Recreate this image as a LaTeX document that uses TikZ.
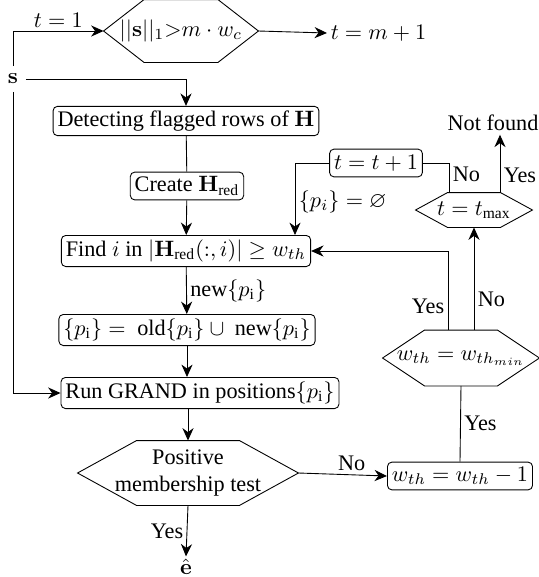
\documentclass[tikz,border=0pt]{standalone}
\usepackage{amsmath,amssymb}
\usepackage[no-math]{fontspec}
\setmainfont{Liberation Serif}
\usetikzlibrary{arrows.meta,calc}

% hexagon round a named node: node name, chamfer
\newcommand{\hexpath}[2]{%
  \draw (#1.west) -- ($(#1.north west)+(#2,0)$) -- ($(#1.north east)+(-#2,0)$) -- (#1.east)
    -- ($(#1.south east)+(-#2,0)$) -- ($(#1.south west)+(#2,0)$) -- cycle;}

\begin{document}
\begin{tikzpicture}
[
x=0.45pt, y=-0.45pt,
>={Stealth[length=5.6pt,width=5pt,inset=1.8pt]},
box/.style={draw, rounded corners=2pt, inner sep=2pt, minimum height=12.5pt},
decision/.style={inner sep=0pt, align=center},
lbl/.style={inner sep=1.5pt}
]
\useasboundingbox (0,0) rectangle (539,577);

\node[decision, minimum width=69.3pt, minimum height=27.9pt] (chk) at (181,31) {$||\mathbf{s}||_1{>}m\cdot w_c$};
\hexpath{chk}{40.5}
\node[lbl, anchor=west] (tend) at (327,33) {$t=m+1$};
\node (s) at (13,79) {$\mathbf{s}$};

\node[box] (det) at (186,121) {Detecting flagged rows of $\mathbf{H}$};
\node[box] (cre) at (187,186) {Create $\mathbf{H}_{\text{red}}$};
\node[box] (find) at (186,251) {Find $i$ in $|\mathbf{H}_{\text{red}}(:,i)|\geq w_{th}$};
\node[box] (uni) at (187,330) {$\{p_{\text{i}}\}={}$ old$\{p_{\text{i}}\}\cup{}$ new$\{p_{\text{i}}\}$};
\node[box] (run) at (200,393) {Run GRAND in positions$\{p_{\text{i}}\}$};

\node[decision, minimum width=99pt, minimum height=28.8pt] (pos) at (188,473) {Positive\\membership test};
\hexpath{pos}{59}
\node[inner sep=1pt] (ehat) at (186,567) {$\hat{\mathbf{e}}$};

\node[box] (wdec) at (460,476) {$w_{th}=w_{th}-1$};
\node[decision, minimum width=70.2pt, minimum height=24.75pt] (wmin) at (461,358) {$w_{th}=w_{th_{min}}$};
\hexpath{wmin}{42}
\node[decision, minimum width=52.2pt, minimum height=15.3pt] (tmax) at (474,210) {$t=t_{\text{max}}$};
\hexpath{tmax}{32}
\node[box] (tinc) at (376,163) {$t=t+1$};
\node[lbl] (nf) at (493,123) {Not found};
\coordinate (tyes) at ($(tmax.north)+(26,0)$);
\coordinate (tno) at ($(tmax.north)+(-25,0)$);
\coordinate (wyes) at ($(wmin.north)+(-13,0)$);

\draw[->] (s.north) |- (chk.west) node[lbl, above, pos=0.75] {$t=1$};
\draw[->] (chk.east) -- (tend.west);
\draw[->] (s.east) -| (det.north);
\draw (det) -- (cre);
\draw[->] (cre) -- (find);
\draw[->] (find) -- (uni) node[lbl, right, midway] {new$\{p_{\text{i}}\}$};
\draw[->] (uni.south) -- (uni.south |- run.north);
\draw[->] (s.south) |- (run.west);
\draw[->] (pos.north |- run.south) -- (pos.north);
\draw[->] (pos.south) -- (ehat.north) node[lbl, left, midway] {Yes};
\draw[->] (pos.east) -- (wdec.west) node[lbl, above, pos=0.6] {No};
\draw (wdec.north) -- (wmin.south) node[lbl, right, midway] {Yes};
\draw[->] (wyes) |- (find.east) node[lbl, left, pos=0.15] {Yes};
\draw[->] (tmax.south |- wmin.north) -- (tmax.south) node[lbl, right, pos=0.3] {No};
\draw (tno) |- (tinc.east) node[lbl, right, pos=0.3] {No};
\draw[->] (tyes) -- (tyes |- nf.south) node[lbl, right, pos=0.3] {Yes};
\draw[->] (tinc.west) -| ($(find.north)+(109,0)$) node[lbl, right, pos=0.77] {$\{p_i\}=\varnothing$};
\end{tikzpicture}
\end{document}
